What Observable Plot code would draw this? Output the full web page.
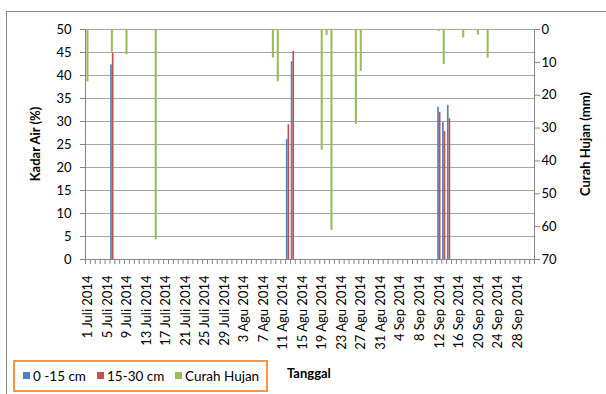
<!DOCTYPE html>
<html>
<head>
<meta charset="utf-8">
<script src="https://cdn.jsdelivr.net/npm/d3@7"></script>
<script src="https://cdn.jsdelivr.net/npm/@observablehq/plot@0.6"></script>
<style>
  html, body { margin: 0; padding: 0; background: #fff; }
  #chart { position: relative; width: 606px; height: 394px; overflow: hidden; font-family: Lato, "Open Sans", sans-serif; }
  #frame { position: absolute; left: 6px; top: 11px; width: 700px; height: 500px; border: 1px solid #868686; box-sizing: border-box; }
  #chart > svg { position: absolute; left: 0; top: 0; }
  .ylab { position: absolute; font-weight: bold; font-size: 13px; white-space: nowrap; transform: translate(-50%, -50%) rotate(-90deg); }
  #legend { position: absolute; left: 13px; top: 360px; width: 255px; height: 32px; border: 2.5px solid #F79646; box-sizing: border-box; background: #fff; }
  #legend svg { display: block; }
  #xlab { position: absolute; left: 287px; top: 365px; font-weight: bold; font-size: 13px; }
</style>
</head>
<body>
<div id="chart">
  <div id="frame"></div>
</div>
<script>
// Soil moisture (%) at two depths, by sampling date
const soilDates = ["2014-07-06", "2014-08-11", "2014-08-12", "2014-09-11", "2014-09-12", "2014-09-13"];
const soil0to15 = [42.3, 26.1, 43.0, 33.1, 29.8, 33.5];
const soil15to30 = [44.8, 29.3, 45.2, 32.0, 27.8, 30.6];

// Daily rainfall (mm)
const rainDates = ["2014-07-01", "2014-07-06", "2014-07-09", "2014-07-15", "2014-08-08", "2014-08-09",
  "2014-08-18", "2014-08-19", "2014-08-20", "2014-08-25", "2014-08-26", "2014-09-11",
  "2014-09-12", "2014-09-16", "2014-09-19", "2014-09-21"];
const rainMm = [16, 6.9, 7.7, 64, 8.7, 15.9, 36.8, 1.8, 61.2, 28.9, 12.8, 0.6, 10.7, 2.6, 1.7, 8.7];

// Date axis labels (every fourth day, starting 1 July)
const dateLabels = ["1 Juli 2014", "5 Juli 2014", "9 Juli 2014", "13 Juli 2014", "17 Juli 2014",
  "21 Juli 2014", "25 Juli 2014", "29 Juli 2014", "3 Agu 2014", "7 Agu 2014", "11 Agu 2014",
  "15 Agu 2014", "19 Agu 2014", "23 Agu 2014", "27 Agu 2014", "31 Agu 2014", "4 Sep 2014",
  "8 Sep 2014", "12 Sep 2014", "16 Sep 2014", "20 Sep 2014", "24 Sep 2014", "28 Sep 2014"];
const moistureTicks = [0, 5, 10, 15, 20, 25, 30, 35, 40, 45, 50];
const rainTicks = [0, 10, 20, 30, 40, 50, 60, 70];

const seriesNames = ["0 -15 cm", "15-30 cm", "Curah Hujan"];
const colors = ["#4F81BD", "#C0504D", "#9BBB59"];

const start = Date.UTC(2014, 6, 1);
const nDays = 92; // 1 July .. 30 September
const dayOf = s => (Date.parse(s) - start) / 864e5;

const soil = soilDates.flatMap((d, i) => [
  {day: dayOf(d), series: 0, v: soil0to15[i]},
  {day: dayOf(d), series: 1, v: soil15to30[i]}
]);
const rain = rainDates.map((d, i) => ({day: dayOf(d), mm: rainMm[i]}));

const W = 606, H = 394;
const margins = {marginLeft: 85, marginRight: 72, marginTop: 29, marginBottom: 135};
const axisGray = "#868686";
const font = {fontFamily: "Lato, 'Open Sans', sans-serif", fontSize: "13px", background: "transparent", overflow: "visible", color: "#000"};
const labelTicks = dateLabels.map((_, i) => i * 4 + 0.5);
const dayTicks = d3.range(0, nDays + 1);
const barHalf = 0.34;

const main = Plot.plot({
  width: W, height: H, ...margins,
  style: font,
  x: {domain: [0, nDays]},
  y: {domain: [0, 50]},
  marks: [
    Plot.gridY(moistureTicks.filter(t => t > 0), {stroke: "#a6a6a6", strokeOpacity: 1}),
    Plot.rectY(soil, {
      x1: d => d.day + 0.5 - (d.series === 0 ? barHalf : 0),
      x2: d => d.day + 0.5 + (d.series === 1 ? barHalf : 0),
      y1: 0, y2: "v",
      fill: d => colors[d.series]
    }),
    Plot.ruleX([0], {stroke: axisGray}),
    Plot.ruleY([0], {stroke: axisGray}),
    Plot.axisY({ticks: moistureTicks, tickSize: 5, tickPadding: 9, stroke: axisGray, fill: "#000", fontSize: 13, label: null}),
    Plot.axisX({ticks: dayTicks, tickSize: 5, tickFormat: () => "", stroke: axisGray, label: null}),
    Plot.axisX({ticks: labelTicks, tickSize: 0, tickPadding: 16, tickRotate: -90,
      tickFormat: t => dateLabels[Math.round((t - 0.5) / 4)], fill: "#000", fontSize: 13, label: null})
  ]
});

const rainPlot = Plot.plot({
  width: W, height: H, ...margins,
  style: font,
  x: {domain: [0, nDays], axis: null},
  y: {domain: [0, 70], reverse: true, axis: null},
  marks: [
    Plot.rectY(rain, {
      x1: d => d.day + 0.29, x2: d => d.day + 0.71,
      y1: 0, y2: "mm",
      fill: colors[2]
    }),
    Plot.ruleX([nDays], {stroke: axisGray}),
    Plot.axisY({anchor: "right", ticks: rainTicks, tickSize: 5, tickPadding: 2, stroke: axisGray, fill: "#000", fontSize: 13, label: null})
  ]
});

const chart = document.getElementById("chart");
chart.appendChild(main);
chart.appendChild(rainPlot);

const yl = document.createElement("div");
yl.className = "ylab"; yl.style.left = "35px"; yl.style.top = "144px"; yl.textContent = "Kadar Air (%)";
chart.appendChild(yl);
const yr = document.createElement("div");
yr.className = "ylab"; yr.style.left = "585px"; yr.style.top = "144px"; yr.textContent = "Curah Hujan (mm)";
chart.appendChild(yr);

// Legend: coloured squares with series names inside the orange box
const legendX = [8, 82, 160];
const legend = document.createElement("div");
legend.id = "legend";
const lsvg = d3.create("svg").attr("width", 250).attr("height", 27);
const items = lsvg.selectAll("g").data(seriesNames).join("g")
  .attr("transform", (d, i) => `translate(${legendX[i]},0)`);
items.append("rect").attr("x", 0).attr("y", 10).attr("width", 7).attr("height", 7)
  .attr("fill", (d, i) => colors[i]);
items.append("text").attr("x", 10).attr("y", 18.5).text(d => d)
  .attr("font-family", "Lato, 'Open Sans', sans-serif").attr("font-size", 13.5).attr("fill", "#000");
legend.appendChild(lsvg.node());
chart.appendChild(legend);

const xl = document.createElement("div");
xl.id = "xlab"; xl.textContent = "Tanggal";
chart.appendChild(xl);
</script>
</body>
</html>
